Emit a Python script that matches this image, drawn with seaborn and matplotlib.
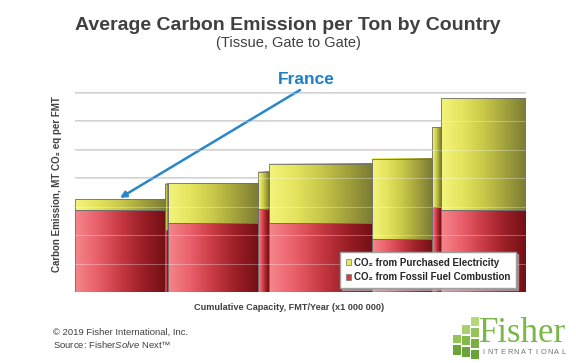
import numpy as np
import pandas as pd
import matplotlib
matplotlib.use("Agg")
import matplotlib.pyplot as plt
from matplotlib.colors import LinearSegmentedColormap
from matplotlib.patches import Patch, Rectangle
from matplotlib.ticker import MultipleLocator
import seaborn as sns

# capacity of each country (million FMT/year), France first
capacity = [0.90, 0.03, 0.90, 0.11, 1.03, 0.60, 0.09, 0.85]
# MT CO2 eq per FMT
fossil = [2.88, 2.18, 2.42, 2.91, 2.42, 1.87, 3.00, 2.87]
electricity = [0.38, 1.62, 1.40, 1.31, 2.08, 2.82, 2.81, 3.94]

lab_elec = "CO\u2082 from Purchased Electricity"
lab_fossil = "CO\u2082 from Fossil Fuel Combustion"

sns.set_theme(style="white")
plt.rcParams['font.family'] = ['Liberation Sans', 'DejaVu Sans']
plt.rcParams['mathtext.fontset'] = 'custom'
plt.rcParams['mathtext.rm'] = 'Liberation Sans'
plt.rcParams['mathtext.it'] = 'Liberation Sans:italic'

edges = [0.0] + list(np.cumsum(capacity))
mids = [edges[i] + capacity[i] / 2 for i in range(len(capacity))]

df = pd.DataFrame({
    "capacity": mids + mids,
    "value": fossil + electricity,
    "source": [lab_fossil] * len(fossil) + [lab_elec] * len(electricity),
})

fig = plt.figure(figsize=(5.76, 3.63), dpi=100)
ax = fig.add_axes([75 / 576, 1 - 292 / 363, 451 / 576, 200.4 / 363])

pal = {lab_elec: "#e6e65a", lab_fossil: "#d94a52"}
sns.histplot(data=df, x="capacity", weights="value", hue="source",
             hue_order=[lab_elec, lab_fossil], bins=edges, multiple="stack",
             palette=pal, alpha=1, shrink=1, legend=False, ax=ax)

red_cmap = LinearSegmentedColormap.from_list(
    "red", ["#f6868c", "#e9606a", "#c83a44", "#9c1f27", "#741015"])
yel_cmap = LinearSegmentedColormap.from_list(
    "yel", ["#f4f47c", "#e4e45e", "#c9c94a", "#a3a33c", "#7c7c34"])
grad = np.linspace(0, 1, 256).reshape(1, -1)

for p in list(ax.patches):
    fc = p.get_facecolor()
    cmap = yel_cmap if fc[1] > 0.6 else red_cmap
    x, y, w, h = p.get_x(), p.get_y(), p.get_width(), p.get_height()
    ax.imshow(grad, extent=[x, x + w, y, y + h], cmap=cmap, aspect="auto",
              interpolation="bilinear", zorder=2)
    p.set_facecolor("none")
    p.set_edgecolor("#6f6f6f")
    p.set_linewidth(0.6)
    p.set_zorder(3)

ax.set_xlim(0, edges[-1])
ax.set_ylim(0, 7.05)
ax.yaxis.set_major_locator(MultipleLocator(1))
ax.grid(axis="y", color="#cfcfcf", linewidth=1.3)
ax.set_axisbelow(True)
for yv in ax.get_yticks():
    if 0 < yv < 7.05:
        ax.axhline(yv, color="white", alpha=0.3, linewidth=0.8, zorder=4)
ax.set_xticklabels([])
ax.set_yticklabels([])
ax.tick_params(length=0)
ax.set_xlabel("")
ax.set_ylabel("")
sns.despine(ax=ax, left=True, bottom=True)

# France callout
ax.annotate("", xy=(mids[0], fossil[0] + electricity[0] + 0.05),
            xytext=(300 / 576, 1 - 90 / 363), textcoords="figure fraction",
            arrowprops=dict(arrowstyle="-|>", color="#2a86cc", lw=1.8,
                            mutation_scale=9, shrinkA=0, shrinkB=0))
fig.text(306 / 576, 1 - 79 / 363, "France", ha="center", va="center",
         fontsize=12.5, fontweight="bold", color="#1f80c8")

leg = ax.legend(handles=[Patch(facecolor="#e8e860", edgecolor="#777777", lw=0.5, label=lab_elec),
                         Patch(facecolor="#d23c46", edgecolor="#777777", lw=0.5, label=lab_fossil)],
                loc="upper left", bbox_to_anchor=(340 / 576, 1 - 252 / 363),
                bbox_transform=fig.transFigure, borderaxespad=0,
                prop={"weight": "bold", "size": 7}, handlelength=0.55,
                handleheight=0.55, handletextpad=0.3, borderpad=0.6,
                labelspacing=0.45, fancybox=False,
                shadow={"color": "#bbbbbb", "alpha": 0.6, "ox": 1.5, "oy": -1.5},
                framealpha=1, edgecolor="#a0a0a0")
leg.set_zorder(10)

# titles and labels
fig.text(288 / 576, 1 - 30 / 363, "Average Carbon Emission per Ton by Country",
         ha="center", va="baseline", fontsize=14, fontweight="bold", color="#404040")
fig.text(288 / 576, 1 - 47 / 363, "(Tissue, Gate to Gate)",
         ha="center", va="baseline", fontsize=10.5, color="#404040")
fig.text(57 / 576, 1 - 184 / 363, "Carbon Emission, MT CO\u2082 eq per FMT",
         rotation=90, ha="center", va="center", fontsize=7, fontweight="bold",
         color="#404040")
fig.text(289 / 576, 1 - 307 / 363, "Cumulative Capacity, FMT/Year (x1 000 000)",
         ha="center", va="center", fontsize=6.6, fontweight="bold", color="#404040")

fig.text(53 / 576, 1 - 332 / 363, "\u00a9 2019 Fisher International, Inc.",
         ha="left", va="center", fontsize=6.8, color="#404040")
fig.text(53 / 576, 1 - 344 / 363, r"Source: Fisher$\it{Solve}$ Next™",
         ha="left", va="center", fontsize=6.8, color="#404040")

# logo
fig.text(479 / 576, 1 - 342 / 363, "Fisher", ha="left", va="baseline",
         fontsize=25, family="Liberation Serif", color="#7ab648")
letters = "INTERNATIONAL"
for i, ch in enumerate(letters):
    fig.text((483 + i * 6.7) / 576, 1 - 353 / 363, ch, ha="center", va="center",
             fontsize=5.3, color="#6b7565")
squares = [(453, 335, 8, 8, "#94c458"), (453, 345, 8, 10, "#6aa43a"),
           (462, 325, 8, 9, "#a8d06c"), (462, 336, 8, 9, "#84ba4a"), (462, 347, 8, 10, "#6aa43a"),
           (471, 317, 8, 9, "#b5d97a"), (471, 328, 8, 9, "#94c458"), (471, 339, 8, 9, "#78b042"),
           (471, 350, 8, 9, "#6aa43a")]
for sx, sy, sw, sh, c in squares:
    fig.add_artist(Rectangle((sx / 576, 1 - (sy + sh) / 363), sw / 576, sh / 363,
                             transform=fig.transFigure, facecolor=c, edgecolor="none"))

fig.savefig("out.png", dpi=100)
